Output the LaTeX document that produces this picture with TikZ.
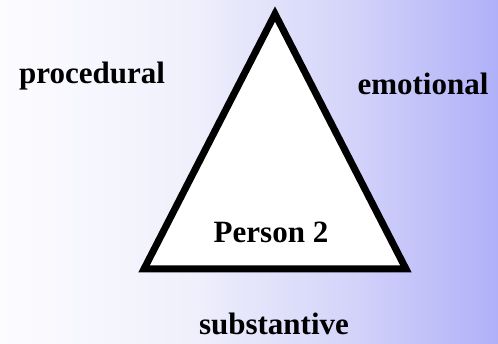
\documentclass[tikz,border=0pt]{standalone}
\usepackage{fontspec}
\setmainfont{Liberation Serif}
\definecolor{bgA}{RGB}{252,252,255}
\definecolor{bgB}{RGB}{240,240,252}
\definecolor{bgC}{RGB}{212,212,250}
\definecolor{bgD}{RGB}{176,176,249}
\pgfdeclarehorizontalshading{bgshade}{100bp}{color(0bp)=(bgA); color(25bp)=(bgA); color(44bp)=(bgB); color(60bp)=(bgC); color(75bp)=(bgD); color(100bp)=(bgD)}
\tikzset{
  lbl/.style={font=\fontsize{31}{36}\selectfont\bfseries, inner sep=0pt, anchor=base},
  tri/.style={draw=black, line width=7pt, miter limit=10, line join=miter, fill=white}
}
\begin{document}
\begin{tikzpicture}[x=1pt,y=-1pt]
\shade[shading=bgshade] (0,0) rectangle (498,344);
\useasboundingbox (0,0) rectangle (498,344);
\coordinate (A) at (275,14);
\coordinate (B) at (144,269);
\coordinate (C) at (406,269);
\draw[tri] (A) -- (B) -- (C) -- cycle;
\node[lbl] (proc) at (92,84) {procedural};
\node[lbl] (emo) at (423,95) {emotional};
\node[lbl] (p2) at (271,243) {Person 2};
\node[lbl] (sub) at (274,335) {substantive};
\end{tikzpicture}
\end{document}
